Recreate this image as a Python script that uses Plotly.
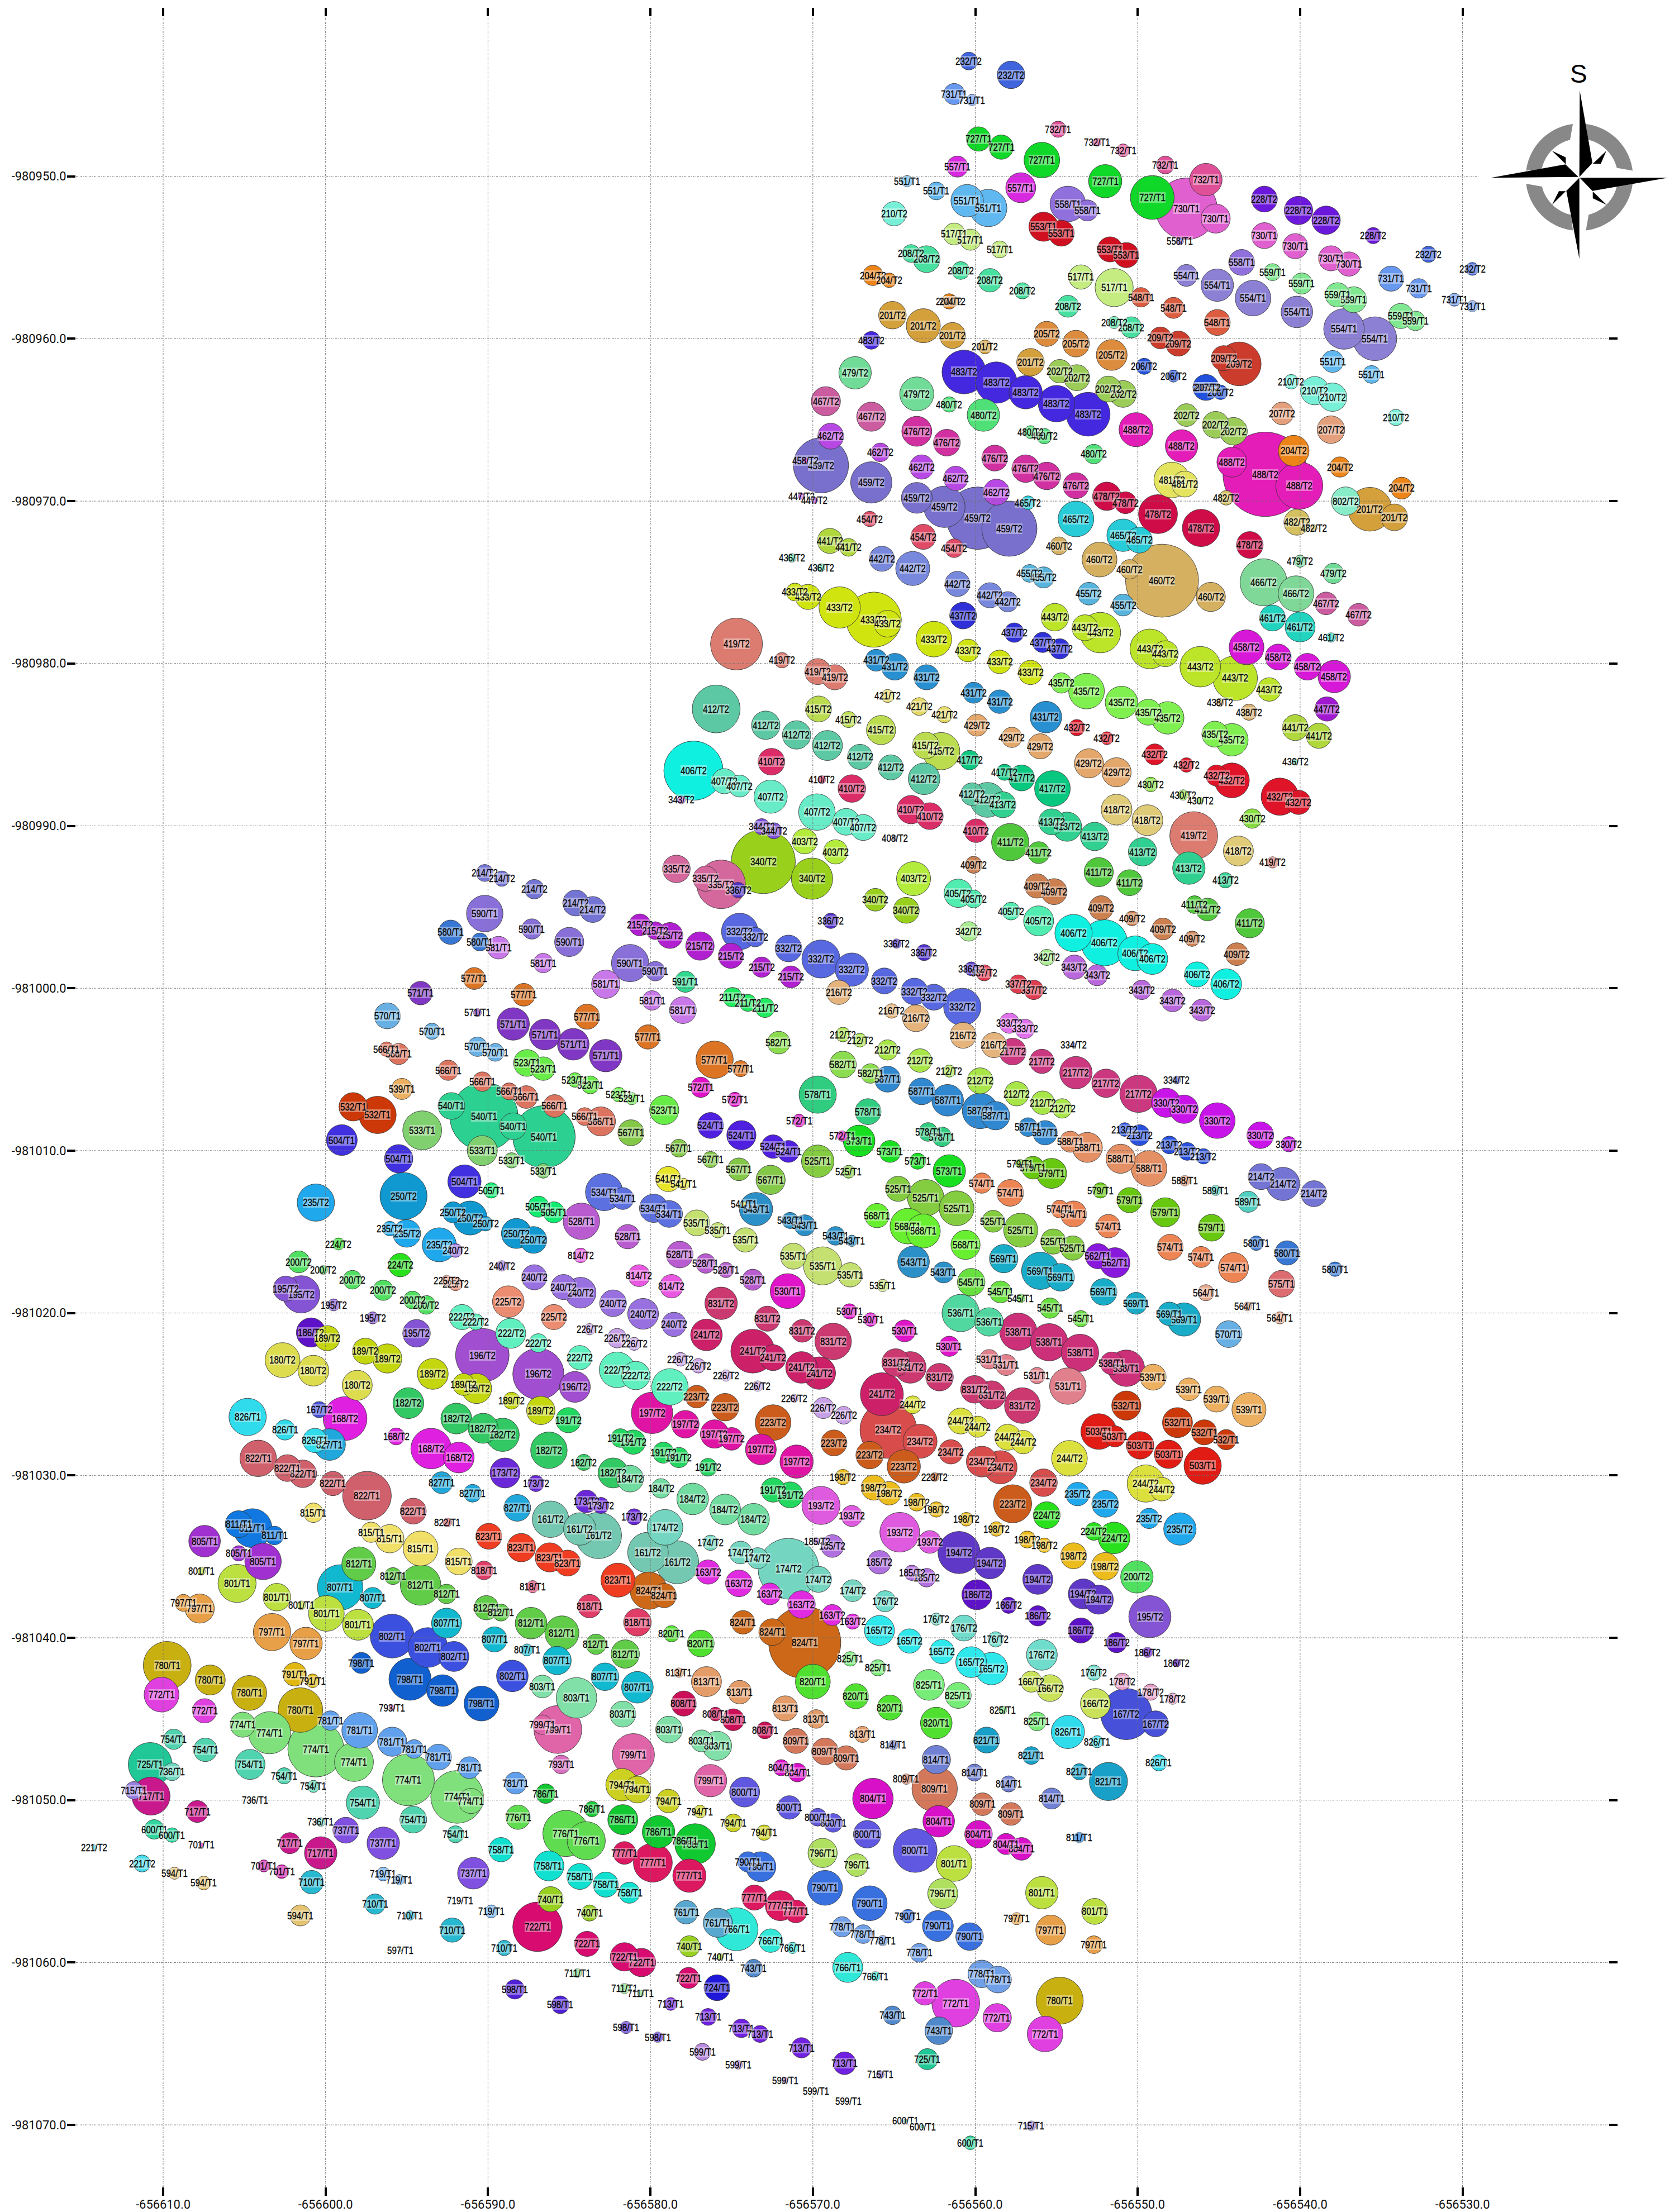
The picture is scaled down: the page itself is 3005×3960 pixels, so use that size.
import math
import plotly.graph_objects as go

# Map readings: (label, metres east of -656610, metres south of -980950, bubble diameter in metres)
X_ORIGIN = -656610.0
Y_ORIGIN = -980950.0
x_ticks = [-656610, -656600, -656590, -656580, -656570, -656560, -656550, -656540, -656530]
y_ticks = [-980950, -980960, -980970, -980980, -980990, -981000, -981010, -981020,
           -981030, -981040, -981050, -981060, -981070]

north = [
("232/T2",49.6,-7.1,1.1),("232/T2",52.2,-6.25,1.7),("731/T1",48.7,-5.07,1.3),("731/T1",49.8,-4.7,.7),("727/T1",50.2,-2.3,1.5),
("727/T1",51.6,-1.8,1.5),("727/T1",54.1,-1,2.2),("732/T1",55.1,-2.9,1),("732/T1",57.5,-2.1,.5),("732/T1",59.1,-1.6,.8),
("732/T1",61.7,-.7,1.1),("732/T1",64.2,.2,2),("727/T1",58,.3,2.05),("727/T1",60.9,1.3,2.7),("730/T1",63,2,3.8),("730/T1",64.8,2.6,1.8),
("557/T1",48.9,-.6,1.3),("557/T1",52.8,.7,1.85),("551/T1",45.8,.3,.7),("551/T1",47.6,.9,1.1),("551/T1",49.5,1.5,2),("551/T1",50.8,1.95,2.3),
("558/T1",55.7,1.7,2.2),("558/T1",56.9,2.1,1.3),("558/T1",62.6,4,.45),("228/T2",67.8,1.4,1.6),("228/T2",69.9,2.1,1.75),("228/T2",71.6,2.7,1.75),
("210/T2",45,2.3,1.5),("553/T1",54.2,3.1,1.8),("553/T1",55.3,3.5,1.6),("517/T1",48.7,3.55,1.35),("517/T1",49.7,3.9,1.3),("517/T1",51.5,4.5,1.05),
("208/T2",46.05,4.75,1.1),("208/T2",47,5.1,1.65),("208/T2",49.1,5.8,1.1),("208/T2",50.9,6.4,1.45),("208/T2",52.9,7.05,1),("208/T2",55.7,8,1.35),
("553/T1",58.3,4.5,1.55),("553/T1",59.3,4.85,1.55),("730/T1",67.8,3.65,1.6),("730/T1",69.7,4.3,1.55),("730/T1",71.9,5.05,1.55),
("204/T2",43.7,6.1,1.25),("204/T2",44.7,6.4,.9),("517/T1",56.5,6.2,1.5),("517/T1",58.55,6.85,2.35),("558/T1",66.4,5.3,1.6),("559/T1",68.3,5.9,1.05),
("559/T1",70.1,6.6,1.3),("554/T1",63,6.1,1.35),("554/T1",64.9,6.7,2),("554/T1",67.1,7.5,2.2),("554/T1",69.8,8.35,1.95),("204/T2",48.4,7.7,.95),
("204/T2",48.6,7.7,.7),("201/T2",44.9,8.55,1.7),("201/T2",46.8,9.2,2.1),("201/T2",48.6,9.8,1.6),("205/T2",54.4,9.7,1.55),("205/T2",56.2,10.3,1.65),
("205/T2",58.4,11,1.9),("548/T1",60.2,7.45,1.2),("548/T1",62.2,8.1,1.3),("548/T1",64.9,9,1.6),("208/T2",58.55,9,.75),("208/T2",59.6,9.3,1.3),
("209/T2",61.4,9.95,1.35),("209/T2",62.5,10.3,1.55),("483/T2",43.6,10.1,1.1),("201/T2",50.6,10.5,.85),("201/T2",53.4,11.45,1.7),("209/T2",65.3,11.2,1.55),
("209/T2",66.25,11.55,2.7),("206/T2",60.4,11.7,1),("206/T2",62.2,12.3,.75),("483/T2",49.3,12.05,2.7),("483/T2",51.3,12.7,2.55),("483/T2",53.1,13.3,2.05),
("483/T2",55,14,2.25),("483/T2",56.95,14.65,2.7),("479/T2",42.6,12.1,2),("479/T2",46.4,13.4,2.1),("202/T2",55.2,12,1.45),("202/T2",56.25,12.4,1.6),
("202/T2",58.2,13.1,1.6),("202/T2",59.1,13.4,1.65),("206/T2",64.2,13,1.6),("207/T2",64.3,13,.2),("206/T2",65.1,13.3,.9),("210/T2",69.45,12.65,.9),
("210/T2",70.9,13.2,1.75),("210/T2",72,13.6,1.75),("467/T2",40.8,13.85,1.8),("467/T2",43.6,14.8,1.8),("480/T2",48.4,14.05,.95),("480/T2",50.5,14.7,2),
("207/T2",68.9,14.6,1.4),("202/T2",63,14.7,1.4),("202/T2",64.8,15.3,1.65),("202/T2",65.9,15.7,1.7),("462/T2",41.1,16,1.6),("488/T2",59.9,15.6,2.1),
("488/T2",62.7,16.6,2),("480/T2",53.4,15.75,.8),("480/T2",54.25,16,.95),("476/T2",46.4,15.7,1.85),("476/T2",48.25,16.4,1.65),("462/T2",44.15,17,1.15),
("462/T2",46.7,17.9,1.5),("462/T2",48.8,18.6,1.5),("462/T2",51.3,19.45,1.6),("480/T2",57.3,17.1,1.2),("476/T2",51.2,17.35,1.6),("476/T2",53.1,18,1.7),
("476/T2",54.4,18.45,1.7),("476/T2",56.2,19.05,1.6),("488/T2",65.8,17.6,1.85),("204/T2",69.6,16.9,1.9),("488/T2",69.95,19.05,2.9),("481/T2",62.1,18.7,2.2),
("481/T2",62.9,18.95,1.6),("458/T2",39.55,17.5,.3),("459/T2",40.5,17.8,3.4),("459/T2",43.6,18.85,2.55),("447/T2",39.3,19.7,.4),("447/T2",40.1,19.95,.4),
]

northeast = [
("730/T1",73,5.4,1.5),("228/T2",74.5,3.65,1),("232/T2",77.9,4.8,1),("232/T2",80.6,5.7,.8),("559/T1",72.3,7.3,1.5),("559/T1",73.3,7.6,1.6),
("731/T1",75.6,6.3,1.55),("731/T1",77.3,6.9,1.2),("731/T1",79.5,7.6,.8),("731/T1",80.6,8,.7),("559/T1",76.2,8.6,1.55),("559/T1",77.1,8.9,1.2),
("554/T1",72.7,9.4,2.5),("554/T1",74.6,10,2.7),("551/T1",72,11.4,1.35),("551/T1",74.4,12.2,1.1),("210/T2",75.9,14.85,1),("207/T2",71.9,15.6,1.7),
("204/T2",72.45,17.9,1.25),("204/T2",76.25,19.2,1.35),("488/T2",67.85,18.35,5.2),("802/T2",72.8,20,1.75),("201/T2",74.3,20.5,2.7),("201/T2",75.8,21,1.65),
("482/T2",65.45,19.8,.9),("482/T2",69.8,21.3,1.6),("482/T2",70.85,21.65,.4),("478/T2",58.1,19.7,1.75),("478/T2",59.25,20.1,1.35),("478/T2",61.25,20.8,2.4),
("478/T2",63.9,21.65,2.3),("478/T2",66.9,22.7,1.65),("465/T2",56.2,21.1,2.2),("465/T2",59.1,22.1,2),("465/T2",60.1,22.4,1.6),("460/T2",57.65,23.6,2.15),
("460/T2",59.5,24.2,1.2),("460/T2",61.5,24.9,4.5),("460/T2",64.5,25.9,1.8),("479/T2",70,23.7,.75),("479/T2",72.05,24.45,1.25),("466/T2",67.75,25,2.9),
("466/T2",69.75,25.7,2.2),("467/T2",71.6,26.3,1.4),("467/T2",73.6,27,1.4),("461/T2",68.3,27.2,1.6),("461/T2",70,27.75,1.85),("461/T2",71.9,28.4,.6),
("458/T2",66.7,29,2.15),("458/T2",68.65,29.6,1.6),("458/T2",70.45,30.2,1.65),("455/T2",57,25.7,1.4),("455/T2",59.1,26.4,1.35),("443/T2",56.75,27.8,1.6),
("443/T2",57.7,28.1,2.5),("443/T2",60.75,29.1,2.45),("443/T2",61.7,29.4,1.6),("443/T2",63.85,30.2,2.5),
]

upper_middle = [
("459/T2",46.4,19.8,1.9),("459/T2",48.1,20.35,2.55),("459/T2",50.15,21.05,3.85),("459/T2",52.1,21.7,3.4),("465/T2",53.25,20.1,.85),("454/T2",43.5,21.1,.95),
("454/T2",46.8,22.2,1.55),("454/T2",48.7,22.9,1.15),("441/T2",41.05,22.45,1.55),("441/T2",42.2,22.85,1.1),("460/T2",55.15,22.75,1.1),("436/T2",38.7,23.5,.55),
("436/T2",40.5,24.1,.5),("442/T2",44.25,23.55,1.55),("442/T2",46.15,24.15,2.1),("442/T2",48.9,25.1,1.55),("442/T2",50.9,25.8,1.55),("442/T2",52,26.2,1.25),
("455/T2",53.35,24.45,1.1),("455/T2",54.2,24.7,1.3),("433/T2",38.9,25.6,1.1),("433/T2",39.7,25.9,1.55),("433/T2",41.65,26.55,2.55),("433/T2",43.75,27.3,3.4),
("433/T2",44.6,27.55,1.65),("433/T2",47.45,28.5,2.2),("433/T2",49.55,29.2,1.4),("433/T2",51.5,29.9,1.45),("433/T2",53.4,30.55,1.5),("437/T2",49.25,27.05,1.65),
("437/T2",52.4,28.1,1.2),("437/T2",54.15,28.7,1.25),("437/T2",55.2,29.1,1.25),("443/T2",54.9,27.15,1.7),("419/T2",35.3,28.8,3.2),("419/T2",38.1,29.8,.95),
("419/T2",40.3,30.5,1.6),("419/T2",41.35,30.85,1.55),("431/T2",43.9,29.8,1.35),("431/T2",45.05,30.2,1.65),("431/T2",47,30.85,1.55),("431/T2",49.9,31.8,1.3),
("431/T2",51.5,32.35,1.45),("431/T2",54.35,33.3,1.95),("435/T2",55.3,31.2,1.25),("435/T2",56.85,31.7,2.2),("412/T2",34.05,32.8,2.95),("412/T2",37.1,33.8,1.75),
("412/T2",39,34.4,1.75),("412/T2",40.9,35.05,1.85),("412/T2",42.9,35.75,1.55),("412/T2",44.8,36.4,1.55),("412/T2",46.85,37.1,1.95),("415/T2",40.35,32.8,1.6),
("415/T2",42.2,33.45,1),("415/T2",44.2,34.1,1.8),("415/T2",46.95,35.05,1.65),("415/T2",47.9,35.4,2.3),("421/T2",44.6,32,.8),("421/T2",46.55,32.65,1.1),
("421/T2",48.1,33.15,1),("429/T2",50.1,33.8,1.35),("429/T2",52.25,34.55,1.25),("429/T2",54,35.1,1.55),("429/T2",57,36.15,1.8),("432/T2",56.25,33.95,1),
("432/T2",58.1,34.6,.8),("417/T2",49.65,35.95,1.2),("417/T2",51.8,36.7,1),("417/T2",52.85,37.05,1.6),("417/T2",54.75,37.7,2.2),("406/T2",32.65,36.6,3.65),
("407/T2",34.55,37.25,1.55),("407/T2",35.5,37.55,1.35),("407/T2",37.4,38.2,2.05),("407/T2",40.25,39.15,2.25),("410/T2",37.45,36.05,1.65),("410/T2",40.55,37.15,.5),
("410/T2",42.4,37.7,1.7),("410/T2",46.05,39,1.75),("410/T2",47.2,39.4,1.65),("343/T2",31.9,38.4,.5),
]

middle_a = [
("458/T2",72.1,30.8,2),("443/T2",66,30.9,2.75),("443/T2",68.1,31.6,1.45),("447/T2",71.65,32.8,1.5),("438/T2",65.05,32.4,.5),("438/T2",66.85,33,1),
("441/T2",69.7,33.95,1.6),("441/T2",71.15,34.45,1.55),("435/T2",59,32.4,2),("435/T2",60.65,33,1.6),("435/T2",61.85,33.35,2),("435/T2",64.75,34.35,1.6),
("435/T2",65.8,34.7,2),("432/T2",61.05,35.6,1.3),("432/T2",63,36.25,.9),("432/T2",64.85,36.9,1.3),("432/T2",65.8,37.2,2.15),("436/T2",69.7,36.05,.35),
("429/T2",58.7,36.7,1.8),("430/T2",60.8,37.45,.9),("430/T2",62.8,38.1,.65),("430/T2",63.85,38.45,.4),("430/T2",67.05,39.55,1.2),("432/T2",68.75,38.2,2.3),
("432/T2",69.9,38.55,1.5),("412/T2",49.8,38.05,1.4),("412/T2",50.75,38.4,2.15),("413/T2",51.7,38.7,1.6),("418/T2",58.7,39,1.9),("418/T2",60.6,39.65,1.9),
("419/T2",63.45,40.6,2.95),("418/T2",66.2,41.55,1.85),("419/T2",68.3,42.25,.7),("413/T2",54.7,39.75,1.6),("413/T2",55.65,40.05,1.8),("413/T2",57.35,40.65,1.75),
("413/T2",60.3,41.6,1.75),("413/T2",63.15,42.6,2),("413/T2",65.4,43.35,.95),("411/T2",52.15,41,2.3),("411/T2",53.9,41.65,1.35),("411/T2",57.6,42.85,1.8),
("411/T2",59.5,43.5,1.6),("411/T2",63.5,44.85,1.1),("411/T2",64.3,45.15,1.4),("411/T2",66.9,46,1.8),("410/T2",50.05,40.3,1.45),("407/T2",42.05,39.75,1.65),
("407/T2",43.1,40.1,1.6),("344/T2",36.85,40.05,1),("344/T2",37.6,40.3,1),("340/T2",36.95,42.2,3.95),("340/T2",39.95,43.25,2.55),("403/T2",39.5,40.95,1.55),
("403/T2",41.4,41.6,1.5),("403/T2",46.2,43.25,2.1),("408/T2",45.05,40.75,.3),("409/T2",49.9,42.4,1.05),("409/T2",53.8,43.7,1.5),("409/T2",54.85,44.05,1.6),
("409/T2",57.75,45.05,1.5),("409/T2",59.65,45.7,.9),("409/T2",61.55,46.35,1.35),("409/T2",63.35,46.95,.95),("409/T2",66.1,47.9,1.4),("405/T2",48.95,44.15,1.75),
("405/T2",49.9,44.5,1.1),("405/T2",52.2,45.25,1.1),("405/T2",53.9,45.85,1.85),("340/T2",43.85,44.55,1.4),("340/T2",45.75,45.2,1.6),("342/T2",49.6,46.5,1.2),
("342/T2",54.4,48.1,1),("406/T2",56.05,46.6,2.3),("406/T2",57.95,47.2,2.85),("406/T2",59.85,47.85,2.15),("406/T2",60.9,48.2,1.9),("406/T2",63.65,49.15,1.55),
("406/T2",65.45,49.75,1.9),("343/T2",56.1,48.7,1.5),("343/T2",57.5,49.2,1.3),("343/T2",60.25,50.1,1.2),("343/T2",62.15,50.75,1.4),("343/T2",63.95,51.35,1.35),
("336/T2",41.1,45.85,.95),("336/T2",45.15,47.25,.6),("336/T2",46.85,47.8,1),("336/T2",49.75,48.8,.85),("337/T2",50.55,49.05,1),("337/T2",52.65,49.75,1.15),
("337/T2",53.6,50.1,1.2),("332/T2",35.5,46.5,2.25),("332/T2",36.45,46.85,1.2),("332/T2",38.5,47.55,1.65),("332/T2",40.5,48.2,2.35),("332/T2",42.4,48.85,2.05),
("332/T2",44.4,49.55,1.6),("332/T2",46.25,50.2,1.65),("332/T2",47.45,50.55,1.6),("332/T2",49.2,51.15,2.3),("215/T2",36.85,48.7,1.25),("215/T2",38.65,49.3,1.35),
("216/T2",41.6,50.25,1.5),("216/T2",44.85,51.4,.9),("216/T2",46.35,51.85,1.65),("216/T2",49.25,52.9,1.6),("216/T2",51.15,53.5,1.55),("333/T2",52.1,52.15,1.25),
("333/T2",53.05,52.5,1.2),("334/T2",56.05,53.5,.3),("334/T2",62.4,55.65,.5),("217/T2",52.3,53.9,1.65),("217/T2",54.1,54.5,1.5),("217/T2",56.2,55.2,2),
("217/T2",58.05,55.85,1.75),("217/T2",60.05,56.5,2.3),("330/T2",61.75,57.05,1.8),("330/T2",62.85,57.45,1.75),("330/T2",64.9,58.15,2.2),("330/T2",67.55,59.05,1.65),
("330/T2",69.3,59.6,.95),("211/T2",35.05,50.55,1.2),("211/T2",36,50.9,1.05),("211/T2",37.05,51.2,1.2),
]

middle_b = [
("212/T2",41.85,52.85,.9),("212/T2",42.9,53.2,.85),("212/T2",44.6,53.8,1.25),("212/T2",46.6,54.45,1.45),("212/T2",48.4,55.1,.75),("212/T2",50.3,55.7,1.6),
("212/T2",52.55,56.5,1.5),("212/T2",54.15,57.05,1.45),("212/T2",55.35,57.4,1.2),("582/T1",37.9,53.35,1.4),("582/T1",41.85,54.7,1.65),("582/T1",43.55,55.25,1.2),
("587/T1",44.6,55.6,1.6),("587/T1",46.7,56.35,1.65),("587/T1",48.3,56.9,1.95),("587/T1",50.3,57.55,2.2),("587/T1",51.25,57.85,1.75),("587/T1",53.25,58.55,1.15),
("587/T1",54.3,58.9,1.5),("577/T1",35.55,54.95,1),("572/T1",35.2,56.85,.9),("578/T1",40.3,56.55,2.3),("578/T1",43.4,57.6,1.6),("578/T1",47.1,58.85,1.15),
("578/T1",47.95,59.15,1.2),("572/T1",39.15,58.15,.8),("572/T1",41.8,59.1,.65),("573/T1",42.85,59.4,1.95),("573/T1",44.75,60.05,1.35),("573/T1",46.45,60.65,1),
("573/T1",48.4,61.25,2),("524/T1",35.6,59.05,1.8),("524/T1",37.55,59.75,1.45),("524/T1",38.5,60.05,1.35),("525/T1",40.3,60.65,2),("525/T1",42.2,61.3,.8),
("213/T2",59.2,58.7,.85),("213/T2",60.1,59.05,1.3),("213/T2",61.95,59.65,1.1),("213/T2",63.05,60.05,1.1),("213/T2",64.05,60.35,.95),("588/T1",55.85,59.45,1.3),
("588/T1",56.9,59.8,1.85),("588/T1",58.95,60.5,1.8),("588/T1",60.7,61.1,2.2),("588/T1",62.9,61.85,.65),("589/T1",64.8,62.45,.65),("589/T1",66.8,63.15,1.3),
("214/T2",67.6,61.6,1.6),("214/T2",68.95,62.05,2.05),("214/T2",70.85,62.65,1.6),("579/T1",52.75,60.8,.55),("579/T1",53.55,61.05,1.4),("579/T1",54.7,61.4,1.85),
("579/T1",57.7,62.45,.95),("579/T1",59.5,63.05,1.55),("579/T1",61.7,63.8,1.8),("579/T1",64.55,64.75,1.65),("574/T1",50.4,62,1.25),("574/T1",52.15,62.6,1.65),
("574/T1",55.2,63.6,1.1),("574/T1",56.05,63.9,1.6),("574/T1",58.2,64.65,1.45),("574/T1",62,65.95,1.6),("525/T1",45.25,62.35,1.55),("525/T1",46.95,62.9,2.25),
("525/T1",48.85,63.55,2.15),("525/T1",51.1,64.35,1.35),("525/T1",52.8,64.9,2.1),("525/T1",54.8,65.6,1.55),("525/T1",56,66,1.5),("568/T1",43.95,64,1.5),
("568/T1",45.85,64.65,2.2),("568/T1",46.8,64.95,2.1),("568/T1",49.4,65.8,1.8),("567/T1",35.45,61.15,1.4),("567/T1",37.4,61.8,1.8),("541/T1",35.75,63.3,.3),
("543/T1",36.5,63.6,2.05),("543/T1",38.6,64.3,1),("543/T1",39.5,64.6,1.3),("543/T1",41.4,65.25,1.15),("543/T1",42.4,65.55,.7),("535/T1",35.85,65.5,1.5),
("580/T1",67.3,65.7,.9),("580/T1",69.2,66.3,1.5),("580/T1",72.15,67.3,.9),("575/T1",68.85,68.2,1.65),("574/T1",65.9,67.2,1.85),("574/T1",63.9,66.55,1.3),
("564/T1",64.2,68.75,1),("564/T1",66.75,69.6,.55),("564/T1",68.75,70.3,.75),("570/T1",65.6,71.3,1.65),("569/T1",62.85,70.4,2.05),
]

south_middle_a = [
("535/T1",38.8,66.5,1.6),("535/T1",40.6,67.1,2.35),("535/T1",42.3,67.65,1.5),("535/T1",44.3,68.3,.75),("528/T1",36.3,67.95,1.3),("530/T1",38.45,68.65,2.15),
("530/T1",42.25,69.9,.95),("530/T1",43.55,70.4,.85),("530/T1",45.65,71.1,1.35),("530/T1",48.4,72.05,1.25),("569/T1",51.75,66.65,1.75),("569/T1",54,67.4,2.3),
("569/T1",55.25,67.8,1.7),("569/T1",57.9,68.7,1.65),("569/T1",59.9,69.4,1.35),("569/T1",61.95,70.05,1.45),("543/T1",46.2,66.85,1.95),("543/T1",48.05,67.5,1.3),
("545/T1",49.75,68.1,1.7),("545/T1",51.55,68.7,1.35),("545/T1",52.8,69.1,.55),("545/T1",54.6,69.7,1.25),("545/T1",56.5,70.35,1),("562/T1",57.55,66.5,1.55),
("562/T1",58.6,66.9,1.85),("536/T1",49.1,70,2.3),("536/T1",50.85,70.55,1.75),("538/T1",52.65,71.15,2.3),("538/T1",54.55,71.8,2.3),("538/T1",56.45,72.45,2.3),
("538/T1",58.4,73.1,1.4),("538/T1",59.3,73.4,2.25),("539/T1",60.95,73.95,1.6),("539/T1",63.15,74.7,1.4),("539/T1",64.85,75.3,1.6),("539/T1",66.85,75.95,2.1),
("531/T1",50.85,72.85,1.2),("531/T1",51.9,73.2,1.3),("531/T1",53.8,73.85,1),("531/T1",55.7,74.5,2.25),("831/T2",37.2,70.35,1.55),("831/T2",39.35,71.1,1.4),
("831/T2",41.25,71.75,2.25),("831/T2",45.1,73.05,1.7),("831/T2",46,73.35,1.95),("831/T2",47.8,73.95,1.7),("831/T2",49.95,74.7,1.7),("831/T2",51,75.05,1.75),
("831/T2",52.9,75.7,2.2),("241/T2",36.3,72.35,2.7),("241/T2",37.55,72.75,1.6),("241/T2",39.3,73.35,1.95),("241/T2",40.4,73.7,2),("241/T2",44.25,75,2.65),
("226/T2",36.6,74.5,.65),("226/T2",38.85,75.25,.5),("226/T2",40.65,75.85,1.3),("226/T2",41.9,76.3,1.1),("244/T2",46.15,75.65,1.1),("244/T2",49.1,76.65,1.6),
("244/T2",50.15,77,1.3),("244/T2",52,77.65,1.6),("244/T2",52.95,77.95,1.45),("244/T2",55.8,78.95,2.2),("244/T2",60.5,80.5,2.3),("244/T2",61.5,80.85,1.45),
("532/T1",59.3,75.7,1.8),("532/T1",62.45,76.75,1.85),("532/T1",64.1,77.35,1.55),("532/T1",65.45,77.8,1.25),("503/T1",57.6,77.3,2.2),("503/T1",58.6,77.6,1.3),
("503/T1",60.15,78.15,1.7),("503/T1",61.9,78.7,1.75),("503/T1",64,79.4,2.3),("234/T2",44.65,77.2,3.5),("234/T2",46.6,77.9,2.1),("234/T2",48.5,78.55,1.5),
("234/T2",50.4,79.15,1.9),("234/T2",51.55,79.5,2.05),("234/T2",54.2,80.45,1.7),("223/T2",37.55,76.75,2.2),("223/T2",41.3,78,1.6),("223/T2",43.5,78.75,1.7),
("223/T2",45.6,79.45,2.05),("223/T2",47.5,80.1,.55),("223/T2",52.3,81.75,2.35),("197/T2",36.8,78.4,1.9),("197/T2",39,79.15,2.05),("198/T2",41.85,80.1,.95),
("198/T2",43.75,80.75,1.55),("198/T2",44.7,81.1,1.45),("198/T2",46.4,81.65,1.1),("198/T2",47.6,82.1,.95),("198/T2",49.45,82.7,.85),("198/T2",51.3,83.3,.9),
("198/T2",53.2,83.95,1.05),("198/T2",54.25,84.3,.9),("198/T2",56.05,84.95,1.6),("198/T2",58,85.6,1.7),("235/T2",56.3,81.15,1.45),("235/T2",58,81.75,1.65),
("235/T2",60.7,82.65,1.25),("235/T2",62.6,83.3,2),("224/T2",54.4,82.45,1.65),("224/T2",57.3,83.45,1.1),("224/T2",58.55,83.85,1.95),("200/T2",59.95,86.25,2),
]

south_middle_b = [
("191/T2",37.55,80.9,1.5),("191/T2",38.6,81.2,1.6),("193/T2",40.5,81.85,2.35),("193/T2",42.4,82.5,1.3),("193/T2",45.35,83.5,2.45),("193/T2",47.2,84.1,1.4),
("184/T2",36.35,82.7,1.95),("185/T2",40.25,84.05,.4),("185/T2",41.2,84.35,1.4),("185/T2",44.1,85.35,1.45),("185/T2",46.1,86,.95),("185/T2",47,86.3,1.15),
("194/T2",49,84.75,2.6),("194/T2",50.9,85.4,1.95),("194/T2",53.85,86.4,1.85),("194/T2",56.65,87.3,1.85),("194/T2",57.6,87.65,1.8),("174/T2",35.55,84.75,1.4),
("174/T2",36.6,85.1,1.3),("174/T2",38.5,85.75,3.75),("174/T2",40.35,86.4,1.6),("174/T2",42.45,87.1,1.35),("176/T2",44.45,87.75,1.3),("176/T2",47.6,88.85,.75),
("176/T2",49.3,89.4,1.6),("176/T2",51.25,90.1,.95),("176/T2",54.1,91.05,1.9),("176/T2",57.3,92.15,.95),("186/T2",50.1,87.35,1.85),("186/T2",52.05,88,1),
("186/T2",53.85,88.65,1.25),("186/T2",56.5,89.55,1.55),("186/T2",58.7,90.3,1.25),("186/T2",60.6,90.9,.65),("186/T2",62.4,91.55,.5),("195/T2",60.75,88.7,2.6),
("163/T2",35.45,86.65,1.65),("163/T2",37.35,87.3,1.35),("163/T2",39.3,87.95,1.7),("163/T2",41.2,88.6,1.3),("163/T2",42.45,89,.95),("165/T2",44.1,89.55,1.85),
("165/T2",45.95,90.2,1.5),("165/T2",47.95,90.85,1.5),("165/T2",49.75,91.5,1.9),("165/T2",51,91.9,2),("166/T2",53.45,92.7,1.3),("166/T2",54.6,93.1,1.65),
("166/T2",57.4,94.05,1.85),("167/T2",59.3,94.7,3.15),("167/T2",61.1,95.3,1.6),("178/T2",59.05,92.7,1.05),("178/T2",60.8,93.35,1),("178/T2",62.15,93.75,.7),
("824/T1",35.7,89.05,1.45),("824/T1",37.5,89.65,1.65),("824/T1",39.5,90.3,4.45),("820/T1",40,92.7,2.15),("825/T1",42.3,91.3,.9),("825/T1",44,91.85,1),
("825/T1",47.15,92.9,1.9),("825/T1",48.95,93.55,1.6),("825/T1",51.7,94.45,.5),("825/T1",53.8,95.15,1.15),("826/T1",55.7,95.8,2.05),("826/T1",57.5,96.4,.75),
("826/T1",61.3,97.7,1),("820/T1",42.65,93.6,1.55),("820/T1",44.75,94.3,1.55),("820/T1",47.6,95.25,1.95),("813/T1",35.5,93.35,1.45),("813/T1",38.3,94.35,1.55),
("813/T1",40.2,95,1.15),("813/T1",43.05,95.95,1),("814/T1",44.95,96.6,.6),("808/T1",35.1,95.05,1.35),("808/T1",37.05,95.7,1.05),("809/T1",38.95,96.35,1.55),
("809/T1",40.75,97,1.65),("809/T1",42.05,97.4,1.5),("821/T1",50.7,96.3,1.6),("821/T1",53.45,97.25,1.1),("821/T1",56.4,98.25,1),("821/T1",58.2,98.85,2.35),
("814/T1",47.6,97.5,1.75),("814/T1",49.95,98.3,1.05),("814/T1",52.05,99,1),("804/T1",38.05,98,1),("804/T1",39.05,98.3,1.15),("809/T1",45.75,98.7,.65),
("809/T1",47.5,99.3,2.8),
]

south = [
("808/T1",34,94.7,.85),("803/T1",31.15,95.65,1.65),("803/T1",33.15,96.35,1.35),("803/T1",34.1,96.65,1.8),("814/T1",54.7,99.9,1.3),("809/T1",50.45,100.25,1.4),
("809/T1",52.2,100.85,1.4),("804/T1",43.7,99.9,2.5),("804/T1",47.75,101.3,1.95),("804/T1",50.2,102.1,1.7),("804/T1",51.9,102.7,1.3),("804/T1",52.85,103,1.4),
("811/T1",56.4,102.3,.65),("799/T1",33.7,98.8,2),("800/T1",35.8,99.5,1.85),("800/T1",38.55,100.45,1.45),("800/T1",40.3,101.05,1.1),("800/T1",41.25,101.4,1.15),
("800/T1",43.35,102.1,1.7),("800/T1",46.3,103.1,2.7),("794/T1",31.1,100.05,1.45),("794/T1",33.05,100.7,.8),("794/T1",35.1,101.4,1.1),("794/T1",37,102,.95),
("786/T1",30.5,101.95,2),("786/T1",32.1,102.5,.35),("786/T1",32.75,102.7,2.5),("777/T1",30.15,103.85,2.4),("777/T1",32.4,104.65,2.05),("777/T1",36.4,106,1.55),
("777/T1",38,106.5,1.85),("777/T1",38.95,106.85,1.4),("796/T1",40.6,103.25,1.8),("796/T1",42.7,104,1.4),("796/T1",48,105.75,1.85),("790/T1",36,103.8,1.25),
("790/T1",36.8,104.1,1.85),("790/T1",40.75,105.4,2.15),("790/T1",43.5,106.35,2.15),("790/T1",45.85,107.15,.85),("790/T1",47.7,107.75,1.9),("790/T1",49.65,108.4,1.7),
("801/T1",48.7,103.9,2.2),("801/T1",54.1,105.7,2),("801/T1",57.35,106.85,1.6),("797/T1",52.55,107.3,.75),("797/T1",54.65,108,1.85),("797/T1",57.3,108.9,1.1),
("761/T1",32.2,106.9,1.45),("761/T1",34.15,107.55,1.8),("766/T1",35.3,107.95,2.65),("766/T1",37.4,108.65,1.45),("766/T1",38.75,109.1,.7),("766/T1",42.15,110.3,1.85),
("766/T1",43.85,110.85,.6),("778/T1",41.8,107.8,1.25),("778/T1",43.1,108.25,1.15),("778/T1",44.3,108.65,.65),("778/T1",46.55,109.4,1.15),("778/T1",50.4,110.7,1.7),
("778/T1",51.4,111.05,1.65),("740/T1",32.4,109,1.3),("740/T1",34.3,109.65,.4),("722/T1",29.45,110,1.75),("722/T1",32.35,110.95,1.3),("743/T1",36.35,110.35,1.1),
("743/T1",44.9,113.25,1.15),("743/T1",47.75,114.2,1.7),("724/T1",34.1,111.55,1.6),("711/T1",29.4,111.9,.4),("713/T1",31.25,112.55,.8),("713/T1",33.55,113.35,1.05),
("713/T1",35.6,114.05,1.15),("713/T1",36.75,114.4,1.05),("713/T1",39.3,115.25,1.25),("713/T1",41.95,116.2,1.4),("772/T1",46.9,111.9,1.45),("772/T1",48.8,112.5,2.95),
("772/T1",51.35,113.4,1.75),("772/T1",54.3,114.4,2.2),("780/T1",55.2,112.35,2.9),("725/T1",47.05,115.95,1.3),("715/T1",44.15,116.9,.5),("715/T1",53.45,120.05,.6),
("598/T1",30.45,114.6,.65),("599/T1",33.2,115.5,1.05),("599/T1",35.4,116.3,.55),("599/T1",38.3,117.25,.35),("599/T1",40.2,117.9,.1),("599/T1",42.2,118.55,.1),
("600/T1",45.7,119.75,.2),("600/T1",46.75,120.1,.2),("600/T1",49.7,121.1,.85),
]

west_a = [
("214/T2",19.8,42.9,1.05),("214/T2",20.85,43.25,.95),("214/T2",22.85,43.9,1.2),("214/T2",25.4,44.75,1.6),("214/T2",26.45,45.15,1.6),("335/T2",31.6,42.65,1.7),
("335/T2",33.4,43.25,1.55),("335/T2",34.35,43.6,3),("336/T2",35.4,43.95,.95),("590/T1",19.8,45.4,2.25),("580/T1",17.7,46.55,1.5),("580/T1",19.5,47.15,1.1),
("581/T1",20.65,47.5,1.4),("590/T1",22.7,46.35,1.25),("590/T1",25,47.15,1.8),("581/T1",23.4,48.45,1.2),("590/T1",28.75,48.45,2.3),("590/T1",30.3,48.95,1.2),
("215/T2",29.35,46.1,1.35),("215/T2",30.3,46.45,1.1),("215/T2",31.2,46.75,1.6),("215/T2",33.05,47.4,1.75),("215/T2",34.95,48,1.55),("591/T1",32.15,49.6,1.3),
("581/T1",27.25,49.75,1.75),("581/T1",30.1,50.75,1.2),("581/T1",32,51.35,1.65),("577/T1",19.15,49.4,1.35),("577/T1",22.2,50.4,1.4),("577/T1",26.1,51.75,1.55),
("577/T1",29.85,53,1.5),("577/T1",33.95,54.4,2.3),("571/T1",15.85,50.3,1.45),("571/T1",19.35,51.5,.5),("571/T1",21.55,52.2,2),("571/T1",23.5,52.85,1.9),
("571/T1",25.25,53.45,1.95),("571/T1",27.25,54.15,2),("570/T1",13.8,51.7,1.6),("570/T1",16.55,52.65,1),("570/T1",19.35,53.6,1.2),("570/T1",20.45,53.95,1.1),
("566/T1",13.75,53.75,.9),("566/T1",14.5,54.05,1.3),("566/T1",17.55,55.05,1.25),("566/T1",19.65,55.75,1.2),("566/T1",21.3,56.35,1.05),("566/T1",22.35,56.7,1.4),
("566/T1",24.1,57.25,1.4),("566/T1",25.95,57.9,1.1),("566/T1",26.95,58.2,1.8),("539/T1",14.7,56.2,1.3),("532/T1",11.7,57.3,1.75),("532/T1",13.2,57.8,2.3),
("504/T1",11,59.35,1.9),("533/T1",15.95,58.75,2.4),("540/T1",17.75,57.25,1.65),("540/T1",19.75,57.9,4.2),("540/T1",21.55,58.5,1.65),("540/T1",23.45,59.15,3.85),
("523/T1",22.4,54.6,1.65),("523/T1",23.4,54.95,1.45),("523/T1",25.35,55.65,.9),("523/T1",26.3,55.95,1.1),("523/T1",28.05,56.55,.9),("523/T1",28.85,56.8,.75),
("523/T1",30.85,57.5,1.8),("567/T1",28.8,58.9,1.6),("572/T1",33.1,56.1,1.25),("524/T1",33.7,58.45,1.6),("504/T1",14.5,60.5,1.75),("533/T1",19.65,60,1.85),
("533/T1",21.45,60.6,.95),("533/T1",23.4,61.25,.9),("504/T1",18.55,61.9,2.05),("505/T1",20.2,62.45,.95),("505/T1",23.1,63.45,1.3),("505/T1",24.05,63.8,1.3),
("250/T2",14.8,62.8,2.9),("235/T2",9.4,63.2,2.3),("250/T2",17.85,63.8,1.3),("250/T2",18.9,64.15,2.1),("250/T2",19.85,64.5,.9),("250/T2",21.75,65.1,1.85),
("250/T2",22.8,65.5,1.65),("534/T1",27.15,62.55,2.3),("534/T1",28.3,62.95,1.35),("534/T1",30.2,63.55,1.75),("534/T1",31.15,63.9,1.65),("528/T1",25.75,64.35,2.25),
("528/T1",28.6,65.3,1.5),("528/T1",31.8,66.4,1.65),("528/T1",33.4,66.95,1.2),("528/T1",34.65,67.35,.95),("541/T1",31.1,61.75,1.55),("541/T1",32.05,62.05,.7),
("567/T1",31.75,59.85,1.1),("567/T1",33.7,60.55,1),("535/T1",32.85,64.45,1.6),("535/T1",34.15,64.9,.95),
]

west_b = [
("235/T2",13.95,64.8,.9),("235/T2",15,65.1,1.7),("235/T2",17,65.8,2.1),("240/T2",18,66.15,.85),("224/T2",10.8,65.75,.75),("224/T2",14.6,67.05,1.45),
("200/T2",8.35,66.85,1.35),("200/T2",9.85,67.35,.55),("200/T2",11.65,67.95,1.15),("200/T2",13.55,68.6,1.25),("200/T2",15.35,69.2,1.1),("200/T2",16.2,69.5,1.15),
("814/T2",25.7,66.45,.9),("814/T2",29.3,67.7,1.35),("814/T2",31.3,68.35,1.45),("240/T2",20.85,67.1,.65),("240/T2",22.85,67.8,1.55),("240/T2",24.65,68.4,1.55),
("240/T2",25.7,68.75,1.9),("240/T2",27.7,69.4,1.65),("240/T2",29.55,70.05,1.9),("240/T2",31.45,70.7,1.5),("195/T2",7.55,68.5,1.55),("195/T2",8.5,68.85,2.3),
("195/T2",10.5,69.5,.75),("195/T2",12.9,70.3,.75),("195/T2",15.6,71.25,1.7),("225/T2",17.45,68,.65),("225/T2",18,68.2,.85),("225/T2",21.25,69.3,1.95),
("225/T2",24.05,70.25,1.55),("222/T2",18.4,70.25,1.55),("222/T2",19.25,70.55,1),("222/T2",21.4,71.25,1.85),("222/T2",23.1,71.85,1.15),("222/T2",25.65,72.75,1.5),
("222/T2",27.95,73.5,2.2),("222/T2",29.1,73.85,1.75),("222/T2",31.2,74.55,2.25),("226/T2",26.25,71,.7),("226/T2",27.95,71.55,1.2),("226/T2",29,71.9,.8),
("226/T2",31.85,72.85,.85),("226/T2",32.95,73.25,.9),("226/T2",34.65,73.85,.7),("831/T2",34.35,69.4,2),("241/T2",33.45,71.35,1.95),("186/T2",9.1,71.2,1.8),
("189/T2",10.1,71.55,1.55),("189/T2",12.45,72.35,1.6),("189/T2",13.8,72.8,1.8),("189/T2",16.6,73.75,1.9),("189/T2",18.5,74.4,1.35),("189/T2",19.3,74.65,1.85),
("196/T2",19.65,72.6,3.3),("196/T2",23.1,73.75,3.15),("196/T2",25.35,74.55,1.9),("180/T2",7.35,72.9,2.15),("180/T2",9.25,73.55,1.9),("180/T2",11.95,74.45,1.85),
("223/T2",32.85,75.15,1.4),("223/T2",34.6,75.8,1.7),("182/T2",15.1,75.55,1.9),("167/T2",9.6,75.95,1),("168/T2",11.2,76.5,2.7),("826/T1",5.2,76.4,2.3),
("826/T1",7.5,77.2,1.25),("826/T1",9.35,77.85,1.5),("827/T1",10.25,78.1,1.95),("189/T2",21.45,75.4,1.05),("189/T2",23.25,76,1.75),("191/T2",24.95,76.6,1.55),
("197/T2",30.1,76.15,2.55),("197/T2",32.15,76.85,1.7),("197/T2",33.95,77.45,1.75),("197/T2",35,77.75,1.4),("182/T2",18.05,76.5,1.9),("182/T2",19.7,77.1,1.85),
("182/T2",20.9,77.5,2.05),("182/T2",23.75,78.45,2.25),("182/T2",25.9,79.2,1),("182/T2",27.7,79.85,1.85),("184/T2",28.75,80.2,1.65),("168/T2",14.35,77.6,1.05),
("168/T2",16.5,78.35,2.5),("168/T2",18.2,78.9,1.9),("191/T2",28.15,77.7,1.15),("191/T2",28.95,77.95,1.5),("191/T2",30.8,78.6,1.3),("191/T2",31.75,78.9,1.25),
("191/T2",33.55,79.5,1.1),("822/T1",5.85,78.95,2.25),("822/T1",7.65,79.55,1.65),("822/T1",8.6,79.9,1.7),("822/T1",10.45,80.5,1.5),("822/T1",12.55,81.25,3),
("822/T1",15.4,82.2,1.6),("822/T1",17.5,82.9,.55),("827/T1",17.15,80.45,1.35),("827/T1",19.05,81.1,1.1),("827/T1",21.8,82,1.65),("173/T2",21.05,79.85,1.85),
("173/T2",22.95,80.5,1),("173/T2",26.05,81.6,1.4),("173/T2",26.95,81.85,1),("173/T2",29,82.55,1),("184/T2",30.65,80.8,1.2),("184/T2",32.6,81.45,1.95),
("184/T2",34.6,82.1,1.9),("161/T2",23.85,82.7,2.25),("161/T2",25.65,83.3,2),("161/T2",26.8,83.7,2.85),("161/T2",29.85,84.75,2.5),("161/T2",31.65,85.35,2.65),
("174/T2",30.9,83.2,2.2),("174/T2",33.7,84.15,.95),("163/T2",33.55,85.95,1.5),
]

southwest_a = [
("811/T1",4.65,83,1.65),("811/T1",5.5,83.25,2.4),("811/T1",6.85,83.7,1.15),("805/T1",2.55,84.05,1.95),("805/T1",4.65,84.8,.95),("805/T1",6.15,85.3,2.25),
("815/T1",9.25,82.3,1.2),("815/T1",12.8,83.5,1.25),("815/T1",13.95,83.9,1.75),("815/T1",15.85,84.5,2.15),("815/T1",18.2,85.3,1.65),("823/T1",20.05,83.75,1.6),
("823/T1",22.05,84.45,1.75),("823/T1",23.8,85.05,1.8),("823/T1",24.9,85.4,1.6),("823/T1",28,86.45,2.1),("824/T1",29.9,87.1,2.3),("824/T1",30.85,87.4,1.5),
("818/T1",19.75,85.85,1.15),("818/T1",22.75,86.85,.75),("818/T1",26.25,88.05,1.45),("818/T1",29.2,89.05,1.7),("801/T1",2.35,85.9,.5),("801/T1",4.55,86.65,2.35),
("801/T1",7,87.5,1.7),("801/T1",8.5,88,.55),("801/T1",10.05,88.5,2.2),("801/T1",12,89.2,1.9),("812/T1",12.05,85.45,2.1),("812/T1",14.15,86.2,1.05),
("812/T1",15.85,86.75,2.5),("812/T1",17.45,87.3,1.2),("812/T1",19.9,88.15,1.5),("812/T1",20.8,88.45,1.05),("812/T1",22.65,89.1,1.95),("812/T1",24.55,89.7,2.1),
("812/T1",26.65,90.4,1.25),("812/T1",28.45,91,1.75),("807/T1",10.9,86.9,2.8),("807/T1",12.9,87.55,1.3),("807/T1",17.45,89.1,1.85),("807/T1",20.4,90.1,1.55),
("807/T1",22.4,90.75,.75),("807/T1",24.25,91.4,1.75),("807/T1",27.2,92.4,1.7),("807/T1",29.2,93.05,1.95),("820/T1",31.3,89.75,1),("820/T1",33.1,90.35,1.65),
("813/T1",31.75,92.15,.6),("813/T1",33.45,92.7,1.85),("797/T1",1.25,87.85,1.05),("797/T1",2.25,88.2,1.8),("797/T1",6.7,89.65,2.3),("797/T1",8.8,90.35,2),
("802/T1",14.1,89.9,2.7),("802/T1",16.3,90.6,2.45),("802/T1",17.9,91.15,1.85),("802/T1",21.5,92.35,1.95),("798/T1",12.2,91.55,1.3),("798/T1",15.2,92.55,2.6),
("798/T1",17.2,93.25,1.95),("798/T1",19.6,94.05,2.15),("803/T1",23.35,93,1.4),("803/T1",25.45,93.7,2.5),("803/T1",28.3,94.7,1.6),("780/T1",.25,91.7,2.95),
("780/T1",2.9,92.6,1.85),("780/T1",5.3,93.4,2.15),("780/T1",8.45,94.45,2.75),("791/T1",8.1,92.25,1.45),("791/T1",9.2,92.65,.85),("772/T1",-.1,93.5,2.15),
("772/T1",2.55,94.5,1.5),("774/T1",4.9,95.35,1.55),("774/T1",6.55,95.85,2.6),("774/T1",9.4,96.85,3.45),("774/T1",11.75,97.65,2.4),("774/T1",15.1,98.75,3.2),
("774/T1",18.1,99.8,3.25),("774/T1",18.95,100.05,1.55),("781/T1",10.3,95.1,1.2),("781/T1",12.1,95.7,2.2),("781/T1",14.1,96.4,1.8),("781/T1",15.45,96.85,1.15),
("781/T1",16.95,97.35,1.6),("781/T1",18.85,98,1.35),("781/T1",21.7,98.95,1.35),("793/T1",14.1,94.3,.35),("793/T1",24.5,97.8,1.15),
]

southwest_b = [
("799/T1",23.35,95.35,1.2),("799/T1",24.3,95.65,2.95),("799/T1",28.95,97.2,2.6),("808/T1",32.05,94.05,1.55),("754/T1",.65,96.25,1.25),("754/T1",2.6,96.9,1.45),
("754/T1",5.35,97.8,1.85),("754/T1",7.45,98.5,1),("754/T1",9.25,99.15,.75),("754/T1",12.3,100.15,2.05),("754/T1",15.4,101.2,1.65),("754/T1",18,102.1,1.05),
("736/T1",5.65,100,.1),("736/T1",9.7,101.35,.55),("737/T1",11.25,101.85,1.6),("737/T1",13.55,102.65,2),("737/T1",19.1,104.5,1.95),("717/T1",2.1,100.7,1.35),
("717/T1",7.8,102.65,1.3),("717/T1",9.7,103.25,2),("701/T1",2.35,102.75,.25),("701/T1",6.2,104.05,.75),("701/T1",7.3,104.4,.85),("710/T1",9.15,105.05,1.45),
("710/T1",13.05,106.4,1.25),("710/T1",15.2,107.1,.6),("719/T1",13.55,104.55,.85),("719/T1",14.55,104.9,.65),("719/T1",18.3,106.2,.1),("719/T1",20.2,106.85,.8),
("786/T1",23.55,99.6,1.2),("786/T1",26.4,100.55,.95),("786/T1",28.3,101.2,1.85),("794/T1",28.25,99.05,2),("794/T1",29.2,99.35,1.65),("776/T1",21.85,101.05,1.5),
("776/T1",24.8,102.05,2.85),("776/T1",26.05,102.5,2.35),("758/T1",20.8,103.05,1.5),("758/T1",23.75,104.05,1.85),("758/T1",25.65,104.7,1.6),("758/T1",27.25,105.2,1.55),
("758/T1",28.7,105.7,1.3),("777/T1",28.4,103.25,1.4),("740/T1",23.85,106.1,1.55),("740/T1",26.25,106.95,1),("594/T1",.7,104.5,.75),("594/T1",2.5,105.1,.85),
("594/T1",8.45,107.1,1.3),("722/T1",23.05,107.8,3.05),("725/T1",-.8,97.8,2.7),("736/T1",.55,98.25,1.1),("715/T1",-1.8,99.4,1.1),("717/T1",-.75,99.75,2.35),
("600/T1",-.55,101.8,1.2),("600/T1",.55,102.15,.9),("221/T2",-4.25,102.9,.3),("221/T2",-1.3,103.9,1.05),("710/T1",17.8,108,1.5),("710/T1",21,109.1,.95),
("597/T1",14.6,109.25,.15),("722/T1",26.1,108.85,1.55),("722/T1",28.4,109.65,1.75),("711/T1",25.5,110.65,.55),("711/T1",28.4,111.6,.65),("598/T1",21.65,111.65,1.2),
("598/T1",24.45,112.6,1.1),("598/T1",28.5,114,.75),
]

colour_of = {
"161":"#74c7b0","163":"#e02be0","165":"#2ee8ec","166":"#c9e25a","167":"#4650d8","168":"#e020e0","173":"#6a28d8","174":"#74d6c0","176":"#70dccc","178":"#e6a0c8",
"180":"#dcdc4e","182":"#32c864","184":"#70dca0","185":"#b070e0","186":"#5e12c8","189":"#c4d60e","191":"#22d860","193":"#de5ade","194":"#6038c8","195":"#8454d4",
"196":"#a14fd0","197":"#e014a4","198":"#ecbc1c","200":"#50e060","201":"#d4a03c","202":"#9ccc58","204":"#ec8418","205":"#dc8c3c","206":"#2050dc","207":"#e4a07c",
"208":"#48e0a0","209":"#cc3c2c","210":"#78f0d8","211":"#20ec60","212":"#a8e648","213":"#2850e0","214":"#7474d4","215":"#b020d0","216":"#e4b47c","217":"#cc3880",
"221":"#48dcec","222":"#60f0c0","223":"#cc5c1c","224":"#28e01c","225":"#ec8c70","226":"#c8a0e8","228":"#6c18dc","232":"#4064dc","234":"#d84c4c","235":"#20a8ec",
"240":"#9870e0","241":"#cc2068","244":"#dce03c","250":"#1098d0","330":"#c814e8","332":"#5868e0","333":"#e070ec","334":"#7070d8","335":"#d4689c","336":"#5030c8",
"337":"#e03c50","340":"#98d01c","342":"#a8ec90","343":"#b868dc","344":"#8050d8","403":"#b4ec3c","405":"#50ecb0","406":"#10f0e0","407":"#68ecc8","408":"#8080a0",
"409":"#cc8050","410":"#dc2c68","411":"#50c83c","412":"#5cc8a4","413":"#30d090","415":"#bcdc50","417":"#08c880","418":"#e0cc78","419":"#dc7c70","421":"#e4d864",
"429":"#e4a86c","430":"#88e040","431":"#2890d0","432":"#e01428","433":"#d0e410","435":"#80f050","436":"#58dcb0","437":"#3030d8","438":"#d8b070","441":"#b0d83c",
"442":"#7888dc","443":"#bce428","447":"#a018d0","454":"#e04c68","455":"#58b4dc","458":"#d818d8","459":"#7870cc","460":"#d4b060","461":"#20d4c0","462":"#b848e4",
"465":"#28ccd8","466":"#80d898","467":"#cc5ca0","476":"#d030a0","478":"#d00c48","479":"#70dc98","480":"#50e078","481":"#e4e460","482":"#d4c060","483":"#4428e0",
"488":"#e41cb8","503":"#e01c14","504":"#4030e0","505":"#10ec70","517":"#c4ec80","523":"#68ec48","524":"#5020e0","525":"#84cc40","528":"#b85cd0","530":"#e014c8","531":"#e0808c",
"532":"#cc3808","533":"#80d070","534":"#5c70e0","535":"#c4e070","536":"#50d8a0","538":"#cc3078","539":"#ecb060","540":"#2cd090","541":"#e8e428","543":"#2c90c8",
"545":"#68e040","548":"#dc5c40","551":"#60b8f0","553":"#d01020","554":"#8c80d4","557":"#d828e0","558":"#9070dc","559":"#80e890","562":"#8818dc","564":"#e4a88c",
"566":"#dc7460","567":"#84c848","568":"#68f030","569":"#18acc8","570":"#68b0e4","571":"#8038c4","572":"#e010c8","573":"#18e020","574":"#ec8454","575":"#dc6c70",
"577":"#dc7424","578":"#30cc80","579":"#68c810","580":"#3878d4","581":"#c878e8","582":"#8cdc50","587":"#3088d0","588":"#e49064","589":"#50d0c0","590":"#8870d8",
"591":"#30d890","594":"#e4c470","597":"#80c080","598":"#5020d8","599":"#b888e0","600":"#30d8a0","701":"#d018a8","710":"#28b8d0","711":"#80dc80","713":"#7020e0",
"715":"#9880e0","717":"#c8188c","719":"#70b0f0","722":"#d80c70","724":"#2018d8","725":"#20c898","727":"#10d828","730":"#e060d0","731":"#6898f0","732":"#e05098",
"736":"#70d8c0","737":"#8050e0","740":"#98d020","743":"#5088cc","754":"#50d4b0","758":"#10e0d0","761":"#58a8d0","766":"#30e8d8","772":"#e040e0","774":"#80e07c",
"776":"#60dc50","777":"#dc1860","778":"#70a0e8","780":"#c8b010","781":"#60a0ec","786":"#10c830","790":"#3870e0","791":"#e0b810","793":"#d870c0","794":"#ccd020",
"796":"#b0e060","797":"#e8a048","798":"#1060d0","799":"#e064a8","800":"#6058e0","801":"#bce040","802":"#3c50e0","803":"#80e0a8","804":"#d810c8","805":"#a030d0",
"807":"#10b8d0","808":"#cc1058","809":"#d4785c","811":"#1078e0","812":"#60cc48","813":"#e49c68","814":"#7080d4","815":"#f0e068","818":"#e03c68","820":"#50e030",
"821":"#18a0c8","822":"#d0606c","823":"#f03c20","824":"#cc6818","825":"#78ec78","826":"#30dcec","827":"#20a8dc","831":"#cc3870",
"802/T2":"#88ecc8","814/T2":"#e858e0",
}

rows = (north + northeast + upper_middle + middle_a + middle_b + south_middle_a + south_middle_b
        + south + west_a + west_b + southwest_a + southwest_b)
rows = sorted(rows, key=lambda r: -r[3])

labels = [r[0] for r in rows]
xs = [X_ORIGIN + r[1] for r in rows]
ys = [Y_ORIGIN - r[2] for r in rows]
diam = [r[3] for r in rows]
cols = [colour_of.get(l) or colour_of.get(l[:3], "#aaaaaa") for l in labels]

# Plot frame, in page pixels
W, H = 3005, 3960
L, R, T, B = 136, 2879, 30, 3915
PX_PER_M = 29.07
LABEL_W = 47
x_range = [X_ORIGIN + (L - 292) / PX_PER_M, X_ORIGIN + (R - 292) / PX_PER_M]
y_range = [Y_ORIGIN - (B - 315.7) / PX_PER_M, Y_ORIGIN - (T - 315.7) / PX_PER_M]

fig = go.Figure(go.Scatter(
    x=xs, y=ys, mode="markers", text=labels, hoverinfo="text",
    marker=dict(size=diam, sizemode="diameter", sizeref=1 / PX_PER_M, color=cols,
                line=dict(color="rgba(50,50,50,0.85)", width=1), opacity=1),
))

annotations = [dict(x=x, y=y, xref="x", yref="y", text=l, showarrow=False, xanchor="center", yanchor="middle",
                    bgcolor="rgba(255,255,255,0.38)", borderpad=0, borderwidth=0, height=19, width=LABEL_W,
                    font=dict(family="Liberation Sans", size=19, color="#050505"))
               for l, x, y in zip(labels, xs, ys)]

def px(x):
    return (x - L) / (R - L)

def py(y):
    return 1 - (y - T) / (B - T)

def poly(points):
    return "M" + " L".join(f"{px(a):.5f},{py(b):.5f}" for a, b in points) + " Z"

grid = dict(color="#6e6e6e", width=1, dash="3px,2px,1px,2px")
shapes = []
for v in x_ticks:
    shapes.append(dict(type="line", xref="x", yref="paper", x0=v, x1=v, y0=0, y1=1, line=grid, layer="above"))
for v in y_ticks:
    shapes.append(dict(type="line", xref="paper", yref="y", x0=0, x1=1, y0=v, y1=v, line=grid, layer="above"))

# Compass rose drawn on a white plate, as in the reference
CX, CY = 2826.7, 317.3
shapes.append(dict(type="path", xref="paper", yref="paper", layer="above", line=dict(width=0), fillcolor="white",
                   path=poly([(2647, 120), (3000, 120), (3000, 480), (2647, 480)])))
for q in range(4):
    a0 = q * 90
    outer = [(CX + 96 * math.cos(math.radians(a)), CY - 96 * math.sin(math.radians(a))) for a in range(a0 + 7, a0 + 84, 4)]
    inner = [(CX + 69 * math.cos(math.radians(a)), CY - 69 * math.sin(math.radians(a))) for a in range(a0 + 78, a0 + 11, -4)]
    shapes.append(dict(type="path", xref="paper", yref="paper", layer="above", line=dict(width=0), fillcolor="#888888",
                       path=poly(outer + inner)))
star = [
    [(682, 485), (750, 875), (680, 950)], [(1155, 955), (750, 1025), (682, 955)],
    [(680, 1390), (610, 1025), (680, 955)], [(205, 955), (605, 883), (675, 950)],
    [(825, 810), (795, 880), (752, 880)], [(827, 1100), (752, 1065), (752, 1028)],
    [(533, 1100), (570, 1027), (607, 1027)], [(533, 810), (607, 845), (607, 882)],
]
for tri in star:
    shapes.append(dict(type="path", xref="paper", yref="paper", layer="above", line=dict(width=0), fillcolor="black",
                       path=poly([(2600 + a / 3, b / 3) for a, b in tri])))
annotations.append(dict(xref="paper", yref="paper", x=px(2825.7), y=py(131.7), text="S", showarrow=False,
                        xanchor="center", yanchor="middle", font=dict(family="Liberation Sans", size=46, color="black")))

axis_common = dict(showgrid=False, zeroline=False, showline=False, ticks="outside", ticklen=15, tickwidth=4,
                   tickcolor="black", mirror="ticks", tickmode="array", ticklabelstandoff=-3,
                   tickfont=dict(family="Roboto", size=21.9, color="#111111"))
fig.update_layout(
    width=W, height=H, paper_bgcolor="white", plot_bgcolor="white", showlegend=False,
    margin=dict(l=L, r=W - R, t=T, b=H - B, autoexpand=False),
    xaxis=dict(range=x_range, tickvals=x_ticks, ticktext=[f"{v:.1f}" for v in x_ticks], **axis_common),
    yaxis=dict(range=y_range, tickvals=y_ticks, ticktext=[f"{v:.1f}" for v in y_ticks], **axis_common),
    shapes=shapes, annotations=annotations,
)
narrow_labels = """
document.body.style.margin='0';
function narrowLabels(){
  document.querySelectorAll('.annotation-text').forEach(function(t){
    if(t.textContent.length===6){
      t.setAttribute('textLength','%d');
      t.setAttribute('lengthAdjust','spacingAndGlyphs');
      t.style.stroke='#050505';
      t.style.strokeWidth='0.35px';
    }
  });
}
narrowLabels();
setTimeout(narrowLabels,200);
setTimeout(narrowLabels,1000);
""" % LABEL_W
fig.write_html("out.html", config=dict(displayModeBar=False), post_script=narrow_labels)
